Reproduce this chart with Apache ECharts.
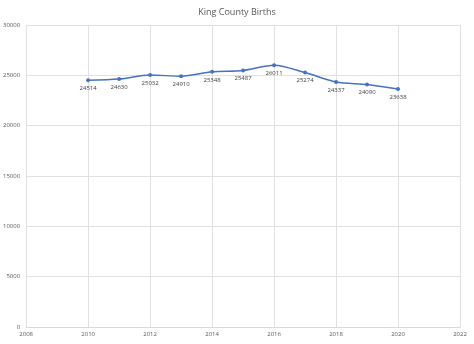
<!DOCTYPE html>
<html><head><meta charset="utf-8">
<script src="https://cdn.jsdelivr.net/npm/echarts@6/dist/echarts.min.js"></script>
<style>html,body{margin:0;padding:0;background:#fff}#c{width:474px;height:344px}</style>
</head><body><div id="c"></div>
<script>
const years = [2010, 2011, 2012, 2013, 2014, 2015, 2016, 2017, 2018, 2019, 2020];
const births = [24514, 24630, 25032, 24910, 25348, 25487, 26011, 25274, 24337, 24090, 23638];
const titleText = 'King County Births';

const chart = echarts.init(document.getElementById('c'));
chart.setOption({
  animation: false,
  backgroundColor: '#fff',
  title: { text: titleText, left: 'center', top: 3, textStyle: { fontFamily: 'Open Sans', fontSize: 9, fontWeight: 'normal', color: '#595959' } },
  grid: { left: 26, right: 14, top: 25, bottom: 17, containLabel: false },
  xAxis: {
    type: 'value', min: 2008, max: 2022, interval: 2,
    axisLine: { show: true, lineStyle: { color: '#d9d9d9' } },
    axisTick: { show: false },
    splitLine: { show: true, lineStyle: { color: '#e0e0e0' } },
    axisLabel: { fontFamily: 'Open Sans', fontSize: 6, color: '#595959', margin: 4, formatter: v => String(v) }
  },
  yAxis: {
    type: 'value', min: 0, max: 30000, interval: 5000,
    axisLine: { show: false },
    axisTick: { show: false },
    splitLine: { show: true, lineStyle: { color: '#e0e0e0' } },
    axisLabel: { fontFamily: 'Open Sans', fontSize: 6, color: '#595959', margin: 6, formatter: v => String(v) }
  },
  series: [{
    type: 'line',
    data: years.map((y, i) => [y, births[i]]),
    smooth: 0.3,
    symbol: 'circle', symbolSize: 4,
    lineStyle: { color: '#4472C4', width: 1.5 },
    itemStyle: { color: '#4472C4' },
    label: { show: true, position: 'bottom', distance: 3, fontFamily: 'Open Sans', fontSize: 6, color: '#404040',
      formatter: p => String(p.value[1]) }
  }]
});
</script></body></html>
